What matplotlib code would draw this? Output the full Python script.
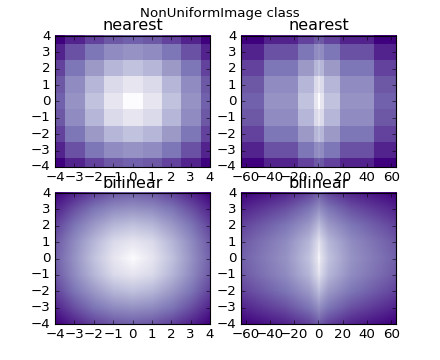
import matplotlib
matplotlib.use("Agg")
import matplotlib.pyplot as plt
import numpy as np
from matplotlib import cm
from matplotlib.image import NonUniformImage

plt.style.use('classic')

# cell centres
x = np.array([-4, -3, -2, -1, 0, 1, 2, 3, 4], dtype=float)
x2 = np.array([-64, -27, -8, -1, 0, 1, 8, 27, 64], dtype=float)
y = np.array([-4, -3, -2, -1, 0, 1, 2, 3, 4], dtype=float)

# distance from the centre, one row per y value
z = np.array([
    [5.66, 5.00, 4.47, 4.12, 4.00, 4.12, 4.47, 5.00, 5.66],
    [5.00, 4.24, 3.61, 3.16, 3.00, 3.16, 3.61, 4.24, 5.00],
    [4.47, 3.61, 2.83, 2.24, 2.00, 2.24, 2.83, 3.61, 4.47],
    [4.12, 3.16, 2.24, 1.41, 1.00, 1.41, 2.24, 3.16, 4.12],
    [4.00, 3.00, 2.00, 1.00, 0.00, 1.00, 2.00, 3.00, 4.00],
    [4.12, 3.16, 2.24, 1.41, 1.00, 1.41, 2.24, 3.16, 4.12],
    [4.47, 3.61, 2.83, 2.24, 2.00, 2.24, 2.83, 3.61, 4.47],
    [5.00, 4.24, 3.61, 3.16, 3.00, 3.16, 3.61, 4.24, 5.00],
    [5.66, 5.00, 4.47, 4.12, 4.00, 4.12, 4.47, 5.00, 5.66],
])

fig, axs = plt.subplots(nrows=2, ncols=2, figsize=(5.5, 4.5), dpi=80)
fig.suptitle('NonUniformImage class', fontsize=12)

for row, interp in enumerate(['nearest', 'bilinear']):
    for col, (xs, ext) in enumerate([(x, (-4, 4, -4, 4)), (x2, (-64, 64, -4, 4))]):
        ax = axs[row, col]
        im = NonUniformImage(ax, interpolation=interp, extent=ext, cmap=cm.Purples)
        im.set_data(xs, y, z)
        ax.add_image(im)
        ax.set_xlim(ext[0], ext[1])
        ax.set_ylim(ext[2], ext[3])
        ax.set_title(interp)

fig.savefig('out.png', dpi=80)
